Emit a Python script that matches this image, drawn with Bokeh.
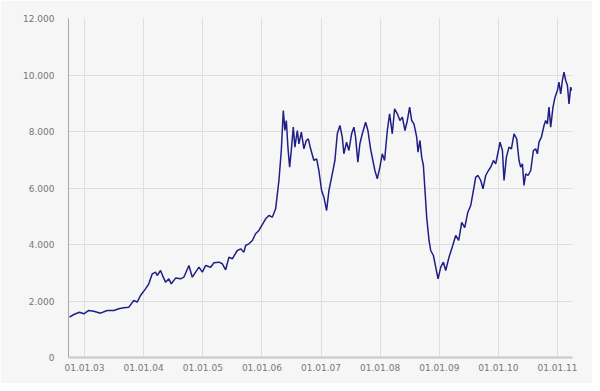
import pandas as pd
from bokeh.plotting import figure
from bokeh.models import FixedTicker, DatetimeTickFormatter, CustomJSTickFormatter, Range1d
from bokeh.embed import file_html
from bokeh.resources import INLINE

# time in decimal years, index values
years = [
    2002.746, 2002.819, 2002.915, 2002.988, 2003.073, 2003.157, 2003.215, 2003.271, 2003.384, 2003.496,
    2003.580, 2003.665, 2003.750, 2003.834, 2003.892, 2003.948, 2004.032, 2004.088, 2004.146, 2004.201,
    2004.230, 2004.286, 2004.332, 2004.371, 2004.426, 2004.467, 2004.540, 2004.624, 2004.680, 2004.765,
    2004.822, 2004.934, 2004.992, 2005.047, 2005.132, 2005.188, 2005.272, 2005.330, 2005.386, 2005.442,
    2005.499, 2005.584, 2005.640, 2005.695, 2005.724, 2005.780, 2005.838, 2005.893, 2005.949, 2006.063,
    2006.118, 2006.176, 2006.232, 2006.288, 2006.328, 2006.362, 2006.389, 2006.413, 2006.440, 2006.469,
    2006.497, 2006.531, 2006.558, 2006.599, 2006.626, 2006.667, 2006.711, 2006.751, 2006.785, 2006.824,
    2006.880, 2006.926, 2006.964, 2007.010, 2007.049, 2007.095, 2007.134, 2007.191, 2007.235, 2007.276,
    2007.320, 2007.360, 2007.387, 2007.433, 2007.472, 2007.518, 2007.557, 2007.585, 2007.624, 2007.658,
    2007.699, 2007.755, 2007.794, 2007.839, 2007.878, 2007.912, 2007.953, 2007.997, 2008.037, 2008.076,
    2008.122, 2008.161, 2008.206, 2008.245, 2008.291, 2008.335, 2008.376, 2008.420, 2008.460, 2008.499,
    2008.533, 2008.572, 2008.618, 2008.640, 2008.673, 2008.702, 2008.731, 2008.758, 2008.787, 2008.826,
    2008.854, 2008.900, 2008.939, 2008.978, 2009.024, 2009.069, 2009.108, 2009.164, 2009.227, 2009.277,
    2009.328, 2009.379, 2009.430, 2009.481, 2009.531, 2009.587, 2009.616, 2009.655, 2009.701, 2009.739,
    2009.785, 2009.831, 2009.870, 2009.915, 2009.954, 2010.000, 2010.027, 2010.068, 2010.095, 2010.135,
    2010.179, 2010.220, 2010.264, 2010.310, 2010.349, 2010.377, 2010.406, 2010.433, 2010.462, 2010.501,
    2010.547, 2010.592, 2010.631, 2010.660, 2010.687, 2010.728, 2010.772, 2010.800, 2010.829, 2010.856,
    2010.885, 2010.924, 2010.958, 2010.998, 2011.025, 2011.054, 2011.083, 2011.110, 2011.139, 2011.168,
    2011.195, 2011.223, 2011.240,
]
values = [
    1427, 1522, 1604, 1547, 1664, 1640, 1604, 1569, 1664, 1664,
    1723, 1758, 1782, 2018, 1959, 2195, 2431, 2608, 2962, 3020,
    2903, 3080, 2843, 2667, 2785, 2608, 2810, 2785, 2843, 3257,
    2843, 3197, 3020, 3257, 3197, 3352, 3374, 3317, 3105, 3551,
    3494, 3788, 3848, 3728, 3965, 4025, 4142, 4379, 4496, 4910,
    5027, 4967, 5264, 6266, 7328, 8744, 8036, 8390, 7445, 6737,
    7328, 8153, 7445, 8036, 7565, 7976, 7387, 7682, 7741, 7387,
    6974, 7034, 6620, 5912, 5675, 5204, 5912, 6503, 6974, 7919,
    8213, 7799, 7211, 7622, 7328, 7919, 8153, 7799, 6914, 7565,
    7919, 8330, 8036, 7387, 6974, 6620, 6326, 6737, 7211, 6974,
    8036, 8627, 7919, 8804, 8627, 8390, 8507, 8036, 8390, 8861,
    8390, 8272, 7799, 7268, 7682, 7091, 6797, 5912, 4950, 4142,
    3788, 3611, 3197, 2785, 3197, 3374, 3080, 3551, 3965, 4319,
    4150, 4780, 4600, 5130, 5380, 6030, 6385, 6443, 6266, 5972,
    6443, 6620, 6737, 6974, 6856, 7328, 7622, 7328, 6266, 7091,
    7445, 7387, 7919, 7741, 6974, 6737, 6856, 6089, 6503, 6443,
    6620, 7328, 7387, 7211, 7622, 7799, 8213, 8390, 8272, 8861,
    8153, 8861, 9215, 9452, 9746, 9334, 9806, 10100, 9806, 9629,
    8980, 9569, 9452,
]
tick_years = [2003, 2004, 2005, 2006, 2007, 2008, 2009, 2010, 2011]
y_ticks = [0, 2000, 4000, 6000, 8000, 10000, 12000]
x_start_year = 2002.729
x_end_year = 2011.254


def to_ts(y):
    base = int(y)
    start = pd.Timestamp(base, 1, 1)
    end = pd.Timestamp(base + 1, 1, 1)
    return start + (end - start) * (y - base)


dates = [to_ts(y) for y in years]
tick_ms = [pd.Timestamp(y, 1, 1).value / 1e6 for y in tick_years]

BG = "#f6f6f6"
p = figure(
    width=592, height=383, x_axis_type="datetime",
    output_backend="svg", toolbar_location=None,
    x_range=Range1d(to_ts(x_start_year), to_ts(x_end_year)),
    y_range=Range1d(0, 12000),
    min_border_left=68, min_border_right=20, min_border_top=18, min_border_bottom=26,
)
p.background_fill_color = BG
p.border_fill_color = BG
p.outline_line_color = None

p.line(dates, values, line_color="#1f1f86", line_width=1.5)

p.xaxis.ticker = FixedTicker(ticks=tick_ms)
fmt = "%d.%m.%y"
p.xaxis.formatter = DatetimeTickFormatter(
    milliseconds=fmt, seconds=fmt, minsec=fmt, minutes=fmt, hourmin=fmt, hours=fmt,
    days=fmt, months=fmt, years=fmt)
p.yaxis.ticker = FixedTicker(ticks=y_ticks)
p.yaxis.formatter = CustomJSTickFormatter(code="""
return Math.round(tick).toString().replace(/\\B(?=(\\d{3})+(?!\\d))/g, '.');
""")

for ax in (p.xaxis[0], p.yaxis[0]):
    ax.major_tick_line_color = None
    ax.minor_tick_line_color = None
    ax.major_label_text_font = "DejaVu Sans"
    ax.major_label_text_font_size = "9px"
    ax.major_label_text_color = "#777777"

p.yaxis.axis_line_color = "#a8a8a8"
p.yaxis.axis_line_width = 1
p.yaxis.major_label_standoff = 8
p.xaxis.axis_line_color = "#c8c8c8"
p.xaxis.axis_line_width = 2
p.xaxis.major_label_standoff = 0

p.xgrid.grid_line_color = "#dedede"
p.ygrid.grid_line_color = "#dedede"
p.xgrid.grid_line_width = 1
p.ygrid.grid_line_width = 1

open("out.html", "w").write(file_html(p, INLINE))
